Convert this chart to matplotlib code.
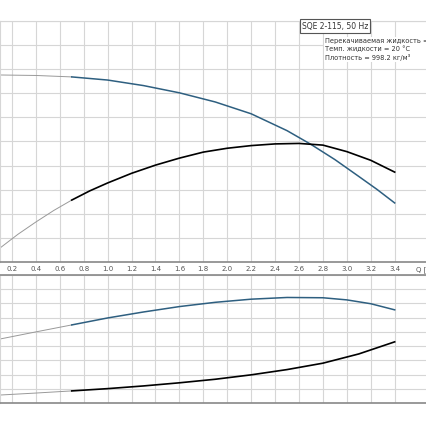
import numpy as np
import matplotlib.pyplot as plt

q_head = [0.1, 0.4, 0.7, 1.0, 1.3, 1.6, 1.9, 2.2, 2.5, 2.7, 2.9, 3.1, 3.25, 3.4]
head = [7.76, 7.74, 7.68, 7.55, 7.32, 7.02, 6.64, 6.15, 5.45, 4.88, 4.25, 3.55, 3.02, 2.45]
q_eff = [0.1, 0.25, 0.4, 0.55, 0.7, 0.85, 1.0, 1.2, 1.4, 1.6, 1.8, 2.0, 2.2, 2.4, 2.6, 2.8, 3.0, 3.2, 3.4]
eff = [0.58, 1.15, 1.66, 2.14, 2.57, 2.95, 3.28, 3.68, 4.02, 4.31, 4.56, 4.72, 4.83, 4.90, 4.92, 4.85, 4.58, 4.22, 3.73]
q_p = [0.1, 0.4, 0.7, 1.0, 1.3, 1.6, 1.9, 2.2, 2.5, 2.8, 3.0, 3.2, 3.4]
p1 = [4.5, 5.0, 5.49, 5.98, 6.40, 6.78, 7.08, 7.30, 7.42, 7.40, 7.25, 6.98, 6.55]
q_p2 = [0.1, 0.4, 0.7, 1.0, 1.3, 1.6, 1.9, 2.2, 2.5, 2.8, 3.1, 3.4]
p2 = [0.56, 0.70, 0.85, 1.01, 1.20, 1.42, 1.67, 1.98, 2.35, 2.80, 3.45, 4.30]
xticks = [0.2, 0.4, 0.6, 0.8, 1.0, 1.2, 1.4, 1.6, 1.8, 2.0, 2.2, 2.4, 2.6, 2.8, 3.0, 3.2, 3.4]

blue = '#2e5f80'
grid = '#d6d6d6'
W, H = 427, 430
xmin, xmax = 0.1, 0.1 + 427 / 119.6

fig = plt.figure(figsize=(W / 100, H / 100), dpi=100)
ax1 = fig.add_axes([0, 1 - 262 / H, 1, (262 - 21) / H])
ax2 = fig.add_axes([0, 1 - 403 / H, 1, (403 - 275) / H])


def split(ax, q, v, color, lw):
    q = np.array(q); v = np.array(v)
    m = q <= 0.7
    ax.plot(q[m], v[m], color='#999999', lw=0.7)
    ax.plot(q[q >= 0.7], v[q >= 0.7], color=color, lw=lw)


for ax, top, n in [(ax1, 10, 10), (ax2, 9, 9)]:
    ax.set_xlim(xmin, xmax)
    ax.set_ylim(0, top)
    ax.set_xticks(xticks)
    ax.set_yticks(range(n + 1))
    ax.grid(True, color=grid, lw=0.8)
    ax.tick_params(length=0, labelleft=False, labelbottom=False)
    for s in ax.spines.values():
        s.set_color(grid)
    ax.spines['bottom'].set_color('#888888')
    ax.spines['bottom'].set_linewidth(1.2)

ax2.spines['top'].set_color('#888888')
ax2.spines['top'].set_linewidth(1.2)

split(ax1, q_head, head, blue, 1.1)
split(ax1, q_eff, eff, 'black', 1.2)
split(ax2, q_p, p1, blue, 1.1)
split(ax2, q_p2, p2, 'black', 1.2)

for t in xticks:
    fig.text((t - xmin) / (xmax - xmin), 1 - 269 / H, f'{t:.1f}', ha='center', va='center', fontsize=5, color='#555555')
fig.text((3.58 - xmin) / (xmax - xmin), 1 - 269 / H, 'Q [м³/h]', ha='left', va='center', fontsize=5, color='#555555')

fig.text(0.707, 1 - 26 / H, 'SQE 2-115, 50 Hz', fontsize=5.5, va='center', color='#333333',
         bbox=dict(facecolor='white', edgecolor='#555555', lw=0.8, pad=1.5))
fig.text(0.76, 1 - 38 / H, 'Перекачиваемая жидкость = Вода\nТемп. жидкости = 20 °C\nПлотность = 998.2 кг/м³',
         fontsize=4.8, va='top', color='#333333', linespacing=1.3,
         bbox=dict(facecolor='white', edgecolor='none', pad=0.5))

fig.savefig('out.png', dpi=100)
